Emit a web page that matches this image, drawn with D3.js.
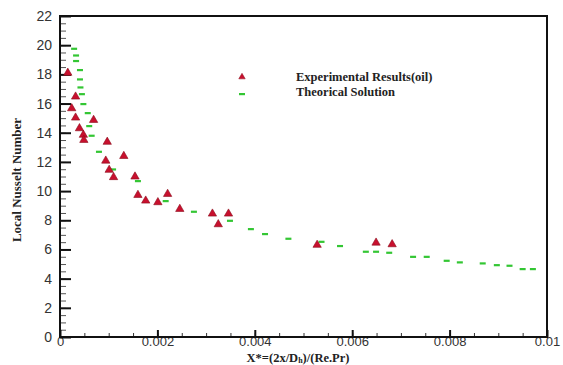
<!DOCTYPE html>
<html><head><meta charset="utf-8">
<script src="https://cdn.jsdelivr.net/npm/d3@7"></script>
<style>body{margin:0;background:#fff}svg{display:block}</style>
</head><body><svg id="c" width="563" height="365"></svg>
<script>
const expX = [0.00016,0.00032,0.00024,0.00032,0.00040,0.00048,0.00049,0.00069,0.00097,0.00131,0.00094,0.00101,0.00110,0.00154,0.00160,0.00176,0.00201,0.00221,0.00246,0.00313,0.00325,0.00346,0.00528,0.00649,0.00682];
const expY = [18.1,16.47,15.67,15.03,14.3,13.85,13.5,14.87,13.37,12.4,12.08,11.45,10.95,10.99,9.73,9.34,9.23,9.8,8.77,8.45,7.72,8.45,6.31,6.46,6.35];
const thX = [0.00029,0.00033,0.00033,0.00041,0.00041,0.00042,0.00045,0.00048,0.00057,0.00060,0.00065,0.00080,0.00109,0.00160,0.00217,0.00275,0.00349,0.00392,0.00421,0.00469,0.00537,0.00575,0.00628,0.00649,0.00676,0.00725,0.00753,0.00794,0.00821,0.00868,0.00897,0.00923,0.00950,0.00971];
const thY = [19.76,19.3,18.92,18.3,17.66,17.11,16.65,15.97,15.35,14.46,13.8,12.7,11.49,10.69,9.32,8.59,7.97,7.4,7.06,6.74,6.53,6.24,5.85,5.85,5.78,5.5,5.5,5.23,5.12,5.05,4.93,4.89,4.66,4.66];
const xTicks = [0,0.002,0.004,0.006,0.008,0.01];
const xTickLabels = ["0","0.002","0.004","0.006","0.008","0.01"];
const yTicks = [0,2,4,6,8,10,12,14,16,18,20,22];
const legendLabels = ["Experimental Results(oil)","Theorical Solution"];

const svg = d3.select("#c");
const L=60,R=547,T=16,B=337;
const x = d3.scaleLinear().domain([0,0.01]).range([L,R]);
const y = d3.scaleLinear().domain([0,22]).range([B,T]);
const red="#c8102e", redS="#8a0a1a", green="#33c633";

// minor ticks
const xMinor = d3.range(0,0.01001,0.0005);
const yMinor = d3.range(0,22.01,0.5);
svg.append("g").attr("transform",`translate(0,${B})`)
  .call(d3.axisBottom(x).tickValues(xMinor).tickSize(-4).tickFormat(""))
  .call(g=>{g.select(".domain").remove();g.selectAll("line").attr("stroke","#333");});
svg.append("g").attr("transform",`translate(${L},0)`)
  .call(d3.axisLeft(y).tickValues(yMinor).tickSize(-6).tickFormat(""))
  .call(g=>{g.select(".domain").remove();g.selectAll("line").attr("stroke","#555");});

// major axes
svg.append("g").attr("transform",`translate(0,${B})`)
  .call(d3.axisBottom(x).tickValues(xTicks).tickSize(-7).tickPadding(0).tickFormat((d,i)=>xTickLabels[i]))
  .call(g=>{g.select(".domain").remove();
    g.selectAll("line").attr("stroke","#111").attr("stroke-width",2);
    g.selectAll("text").attr("font-family","Liberation Sans, Arial, sans-serif").attr("font-size",13).attr("fill","#333");});
svg.append("g").attr("transform",`translate(${L},0)`)
  .call(d3.axisLeft(y).tickValues(yTicks).tickSize(-11).tickPadding(8))
  .call(g=>{g.select(".domain").remove();
    g.selectAll("line").attr("stroke","#111").attr("stroke-width",2);
    g.selectAll("text").attr("font-family","Liberation Sans, Arial, sans-serif").attr("font-size",14).attr("fill","#333");});

// frame
svg.append("rect").attr("x",L).attr("y",T).attr("width",R-L).attr("height",B-T)
  .attr("fill","none").attr("stroke","#111").attr("stroke-width",2);

// theoretical dashes
svg.append("g").selectAll("rect").data(thX).join("rect")
  .attr("x",(d)=>x(d)-3).attr("y",(d,i)=>y(thY[i])-1).attr("width",6).attr("height",2.2)
  .attr("fill",green);

// experimental triangles
const tri = d3.symbol().type(d3.symbolTriangle).size(30);
svg.append("g").selectAll("path").data(expX).join("path")
  .attr("d",tri).attr("transform",(d,i)=>`translate(${x(d)},${y(expY[i])})`)
  .attr("fill",red).attr("stroke",redS).attr("stroke-width",0.6);

// legend
svg.append("path").attr("d",d3.symbol().type(d3.symbolTriangle).size(18)).attr("transform","translate(242,77)")
  .attr("fill",red).attr("stroke",redS).attr("stroke-width",0.5);
svg.append("rect").attr("x",239).attr("y",93).attr("width",6).attr("height",2.2).attr("fill",green);
svg.selectAll(".lg").data(legendLabels).join("text").attr("class","lg")
  .attr("x",296).attr("y",(d,i)=>81+i*15).text(d=>d)
  .attr("font-family","Liberation Serif, Times New Roman, serif").attr("font-weight","bold").attr("font-size",12.5).attr("fill","#222");

// axis titles
const xt = svg.append("text").attr("x",298).attr("y",362).attr("text-anchor","middle")
  .attr("font-family","Liberation Serif, Times New Roman, serif").attr("font-weight","bold").attr("font-size",12.5).attr("fill","#222");
xt.append("tspan").text("X*=(2x/D");
xt.append("tspan").attr("font-size",8).attr("dy",1).text("h");
xt.append("tspan").attr("dy",-1).text(")/(Re.Pr)");

svg.append("text").attr("transform","translate(21,180) rotate(-90)").attr("text-anchor","middle")
  .attr("font-family","Liberation Serif, Times New Roman, serif").attr("font-weight","bold").attr("font-size",13).attr("fill","#222")
  .text("Local Nusselt Number");
</script></body></html>
